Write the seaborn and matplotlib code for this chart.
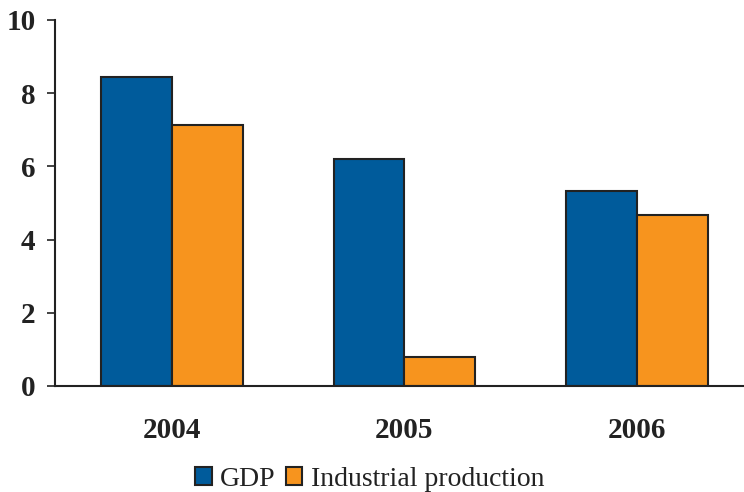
import matplotlib
matplotlib.use("Agg")
import matplotlib.pyplot as plt
import pandas as pd
import seaborn as sns

# Data
years = ["2004", "2005", "2006"]
gdp = [8.45, 6.2, 5.33]
industrial = [7.13, 0.8, 4.66]
series_names = ["GDP", "Industrial production"]
colors = ["#005b9b", "#f7941e"]

df = pd.DataFrame({
    "year": years * 2,
    "value": gdp + industrial,
    "series": [series_names[0]] * 3 + [series_names[1]] * 3,
})

sns.set_style("white")
plt.rcParams["font.family"] = ["Liberation Serif", "DejaVu Serif"]

fig = plt.figure(figsize=(7.44, 4.92), dpi=100)
ax = fig.add_axes([55 / 744, 1 - 386 / 492, 1 - 55 / 744, (386 - 20) / 492])

sns.barplot(data=df, x="year", y="value", hue="series", palette=colors,
            width=0.607, edgecolor="#222222", linewidth=1.5, saturation=1,
            ax=ax, legend=True)

ax.set_ylim(0, 10)
ax.set_xlim(-0.503, 2.46)
ax.set_yticks([0, 2, 4, 6, 8, 10])
ax.set_xlabel("")
ax.set_ylabel("")

for side in ["top", "right"]:
    ax.spines[side].set_visible(False)
for side in ["left", "bottom"]:
    ax.spines[side].set_color("#222222")
    ax.spines[side].set_linewidth(1.5)

ax.tick_params(axis="y", left=True, length=6, width=1.2, color="#222222",
               pad=8, labelsize=21)
ax.tick_params(axis="x", bottom=False, length=0, pad=22, labelsize=21)
for lbl in ax.get_xticklabels() + ax.get_yticklabels():
    lbl.set_fontweight("bold")
    lbl.set_color("#222222")

handles, labels = ax.get_legend_handles_labels()
ax.get_legend().remove()
fig.legend(handles, labels, loc="lower center", bbox_to_anchor=(0.497, -0.05),
           ncol=2, frameon=False, fontsize=20, handlelength=0.6,
           handleheight=0.6, handletextpad=0.3, columnspacing=0.35,
           labelcolor="#222222")

fig.savefig("out.png", dpi=100)
